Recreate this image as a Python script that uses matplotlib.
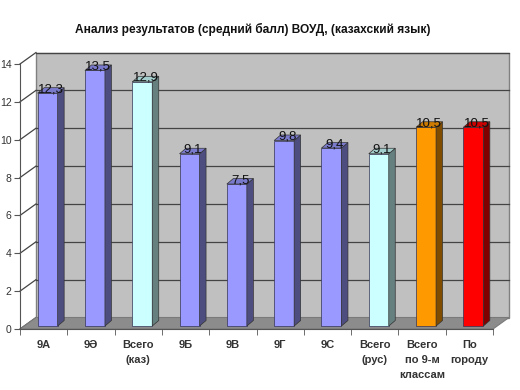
import matplotlib
matplotlib.use("Agg")
import matplotlib.pyplot as plt
from matplotlib.patches import Polygon
import matplotlib.colors as mcolors

plt.rcParams['font.family'] = ['Liberation Sans', 'DejaVu Sans']

title = "Анализ результатов (средний балл) ВОУД, (казахский язык)"
categories = ["9А", "9Ə", "Всего\n(каз)", "9Б", "9В", "9Г", "9С",
              "Всего\n(рус)", "Всего\nпо 9-м\nклассам", "По\nгороду"]
values = [12.3, 13.5, 12.9, 9.1, 7.5, 9.8, 9.4, 9.1, 10.5, 10.5]
value_labels = ["12,3", "13,5", "12,9", "9,1", "7,5", "9,8", "9,4", "9,1", "10,5", "10,5"]
bar_colors = ["#9999FF", "#9999FF", "#CCFFFF", "#9999FF", "#9999FF", "#9999FF",
              "#9999FF", "#CCFFFF", "#FF9900", "#FF0000"]
yticks = [0, 2, 4, 6, 8, 10, 12, 14]

W, H = 520, 390
fig = plt.figure(figsize=(5.2, 3.9), dpi=100)
x0, x1, y0, y1 = 20, 493, 329, 64
ax = fig.add_axes([x0 / W, 1 - y0 / H, (x1 - x0) / W, (y0 - y1) / H])
n = len(categories)
ax.set_xlim(-0.5, n - 0.5)
ax.set_ylim(0, 14)
ax.set_facecolor("none")

pxx = (x1 - x0) / n
pxy = (y0 - y1) / 14.0
wdx, wdy = 16 / pxx, 11.5 / pxy       # wall depth offset
fdx, fdy = 4 / pxx, 3 / pxy           # bar front offset
bdx, bdy = 6.5 / pxx, 5.5 / pxy       # bar depth
bw = 20 / pxx

L, R = -0.5, n - 0.5
# back wall
ax.add_patch(Polygon([(L + wdx, wdy), (R + wdx, wdy), (R + wdx, 14 + wdy), (L + wdx, 14 + wdy)],
                     closed=True, facecolor="#C0C0C0", edgecolor="#808080", lw=1,
                     clip_on=False, zorder=0))
# gridlines
for v in yticks[1:]:
    ax.plot([L + wdx, R + wdx], [v + wdy, v + wdy], color="#444444", lw=0.9,
            clip_on=False, zorder=1)
for v in yticks:
    ax.plot([L, L + wdx], [v, v + wdy], color="#444444", lw=0.9, clip_on=False, zorder=1)
# floor
ax.add_patch(Polygon([(L, 0), (R, 0), (R + wdx, wdy), (L + wdx, wdy)], closed=True,
                     facecolor="#8C8C8C", edgecolor="#7a7a7a", lw=0.8, clip_on=False, zorder=1))

# bars
for i, (v, c) in enumerate(zip(values, bar_colors)):
    rgb = mcolors.to_rgb(c)
    side = tuple(ch * 0.5 for ch in rgb)
    top = tuple(ch * 0.8 for ch in rgb)
    xl = i + fdx - bw / 2
    xr = i + fdx + bw / 2
    yb = fdy
    yt = v + fdy
    ax.bar(i + fdx, v, width=bw, bottom=fdy, color=c, edgecolor="#333355", lw=0.5,
           zorder=3, clip_on=False)
    ax.add_patch(Polygon([(xr, yb), (xr + bdx, yb + bdy), (xr + bdx, yt + bdy), (xr, yt)],
                         closed=True, facecolor=side, edgecolor="#333333", lw=0.5,
                         zorder=3, clip_on=False))
    ax.add_patch(Polygon([(xl, yt), (xr, yt), (xr + bdx, yt + bdy), (xl + bdx, yt + bdy)],
                         closed=True, facecolor=top, edgecolor="#333333", lw=0.5,
                         zorder=3, clip_on=False))
    ax.text(i + fdx + bdx / 2, yt + 0.05, value_labels[i], ha="center", va="baseline",
            fontsize=9.5, color="#111111", zorder=4, clip_on=False)

# axes
for s in ["top", "right"]:
    ax.spines[s].set_visible(False)
ax.spines["left"].set_color("#555555")
ax.spines["bottom"].set_color("#555555")
ax.set_yticks(yticks)
ax.set_yticklabels([str(t) for t in yticks], fontsize=7.5, color="#333333")
ax.tick_params(axis="y", length=4, color="#555555", pad=2)
ax.set_xticks(range(n))
ax.set_xticklabels(categories, fontsize=8, fontweight="bold", color="#333333",
                   linespacing=1.6)
ax.set_xticks([k - 0.5 for k in range(n + 1)], minor=True)
ax.tick_params(axis="x", which="major", length=0, pad=8)
ax.tick_params(axis="x", which="minor", length=4, color="#555555")

fig.text(253 / W, 1 - 29 / H, title, ha="center", va="center", fontsize=8.6,
         fontweight="bold", color="#111111")

fig.savefig("out.png", dpi=100)
